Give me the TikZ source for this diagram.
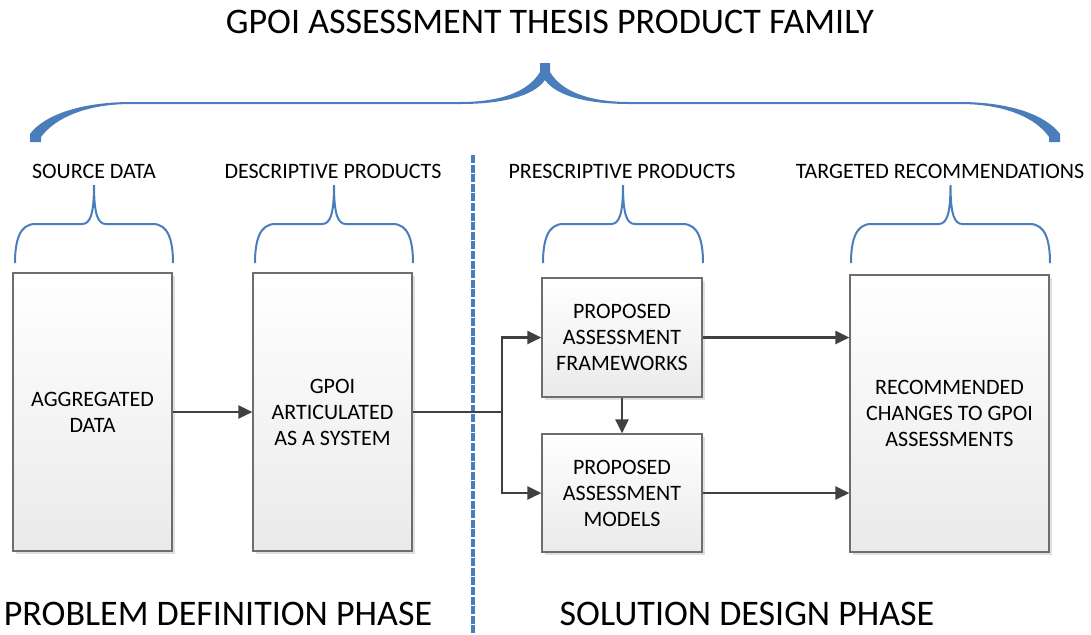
\documentclass[tikz,border=0pt]{standalone}
\usepackage{fontspec}
\setmainfont{Carlito}
\usepackage{tikz}
\usetikzlibrary{arrows.meta,shadows}
\definecolor{brace}{HTML}{4A7EBB}
\definecolor{edge}{HTML}{6D6D6D}
\definecolor{flow}{HTML}{404040}
\definecolor{shade}{HTML}{EAEAEA}
\tikzset{
  box/.style={draw=edge, line width=0.6pt, top color=white, bottom color=shade,
    align=center, font=\fontsize{11}{13}\selectfont, inner sep=2pt,
    drop shadow={shadow xshift=1.5pt, shadow yshift=-1.5pt, fill=black, opacity=0.12}},
  flowline/.style={draw=flow, line width=1.3pt, -{Triangle[length=7pt,width=6.5pt]}},
  joinline/.style={draw=flow, line width=1.3pt},
  bline/.style={draw=brace, line width=1pt},
  divider/.style={draw=brace, line width=1.7pt, dash pattern=on 4pt off 0.8pt},
  lbl/.style={font=\fontsize{11}{13}\selectfont},
  big/.style={font=\fontsize{18}{22}\selectfont}
}

\begin{document}
\begin{tikzpicture}[x=0.5pt, y=-0.5pt]
  \useasboundingbox (0,0) rectangle (1091,634);

  \node[big] (title) at (550,22) {GPOI ASSESSMENT THESIS PRODUCT FAMILY};
  \fill[brace] (30,142) -- (30,134) .. controls (44,115) and (81,102) .. (131,102)
    -- (460,102) .. controls (500,102) and (528,92) .. (540,72) -- (540,63)
    -- (550,63) -- (550,72) .. controls (562,92) and (590,102) .. (630,102)
    -- (960,102) .. controls (1010,102) and (1046,115) .. (1060,134) -- (1060,142)
    -- (1049,142) -- (1049,137) .. controls (1036,118) and (1005,104) .. (960,104)
    -- (630,104) .. controls (590,104) and (557,97) .. (545,80)
    .. controls (533,97) and (500,104) .. (460,104)
    -- (131,104) .. controls (86,104) and (55,118) .. (41,137) -- (41,142) -- cycle;

  \foreach \lx/\rx in {15/173, 255/413, 543/703, 851/1050}{
    \pgfmathsetmacro\mx{(\lx+\rx)/2}
    \draw[bline] (\lx,263) .. controls (\lx,240) and (\lx+5,224) .. (\lx+20,224)
      -- (\mx-12,224) .. controls (\mx-4,224) and (\mx,215) .. (\mx,185)
      .. controls (\mx,215) and (\mx+4,224) .. (\mx+12,224)
      -- (\rx-20,224) .. controls (\rx-5,224) and (\rx,240) .. (\rx,263);
  }

  \node[lbl] (src) at (94,171) {SOURCE DATA};
  \node[lbl] (desc) at (333,171) {DESCRIPTIVE PRODUCTS};
  \node[lbl] (presc) at (622,171) {PRESCRIPTIVE PRODUCTS};
  \node[lbl] (targ) at (940,171) {TARGETED RECOMMENDATIONS};

  \coordinate (dtop) at (473,155);
  \coordinate (dbot) at (473,634);
  \draw[divider] (dtop) -- (dbot);

  \node[box, minimum width=79.5pt, minimum height=139pt] (agg) at (92.5,412) {AGGREGATED\\DATA};
  \node[box, minimum width=79.5pt, minimum height=139pt] (sys) at (332.5,412) {GPOI\\ARTICULATED\\AS A SYSTEM};
  \node[box, minimum width=80pt, minimum height=59.5pt] (frm) at (622,337.5) {PROPOSED\\ASSESSMENT\\FRAMEWORKS};
  \node[box, minimum width=80pt, minimum height=59pt] (mdl) at (622,493) {PROPOSED\\ASSESSMENT\\MODELS};
  \node[box, minimum width=99.5pt, minimum height=138.5pt] (rec) at (949.5,413.5) {RECOMMENDED\\CHANGES TO GPOI\\ASSESSMENTS};

  \coordinate (split) at (502,412);
  \draw[flowline] (agg) -- (sys);
  \draw[joinline] (sys.east) -- (split);
  \draw[flowline] (split) |- (frm.west);
  \draw[flowline] (split) |- (mdl.west);
  \draw[flowline] (frm) -- (mdl);
  \draw[flowline] (frm.east) -- (frm.east -| rec.west);
  \draw[flowline] (mdl.east) -- (mdl.east -| rec.west);

  \node[big] (prob) at (218,614) {PROBLEM DEFINITION PHASE};
  \node[big] (sol) at (747,614) {SOLUTION DESIGN PHASE};
\end{tikzpicture}
\end{document}
